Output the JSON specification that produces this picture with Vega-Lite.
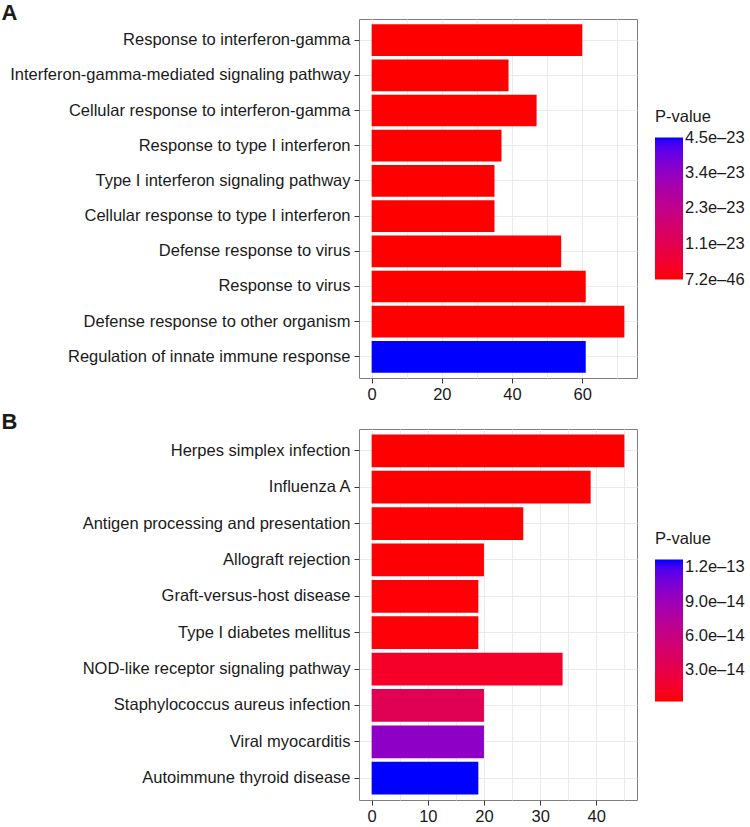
{
  "$schema": "https://vega.github.io/schema/vega-lite/v6.json",
  "padding": {"left": 0, "top": 0, "right": 0, "bottom": 0},
  "background": "white",
  "resolve": {"scale": {"color": "independent"}, "legend": {"color": "independent"}},
  "config": {
    "font": "Liberation Sans",
    "view": {"stroke": "#7f7f7f", "strokeWidth": 1},
    "axis": {
      "labelFont": "Liberation Sans",
      "labelFontSize": 16.5,
      "labelColor": "#1a1a1a",
      "tickColor": "#333333",
      "tickSize": 5,
      "domain": false,
      "gridColor": "#EBEBEB",
      "gridWidth": 1
    },
    "legend": {
      "orient": "none",
      "direction": "vertical",
      "padding": 0,
      "gradientLength": 142,
      "gradientThickness": 28,
      "gradientStrokeWidth": 0,
      "labelFont": "Liberation Sans",
      "labelFontSize": 16.5,
      "labelColor": "#1a1a1a",
      "labelOffset": 8,
      "labelBaseline": "middle",
      "labelOverlap": false,
      "titleFont": "Liberation Sans",
      "titleFontSize": 16.5,
      "titleFontWeight": "normal",
      "titleColor": "#1a1a1a",
      "titlePadding": 12
    },
    "concat": {"spacing": 6}
  },
  "vconcat": [
    {
      "width": 278,
      "height": 359,
      "data": {
        "values": [
          {"term": "Response to interferon-gamma", "count": 60, "pvalue": 3.1e-44},
          {"term": "Interferon-gamma-mediated signaling pathway", "count": 39, "pvalue": 2.4e-36},
          {"term": "Cellular response to interferon-gamma", "count": 47, "pvalue": 5.6e-39},
          {"term": "Response to type I interferon", "count": 37, "pvalue": 1.8e-40},
          {"term": "Type I interferon signaling pathway", "count": 35, "pvalue": 4.2e-39},
          {"term": "Cellular response to type I interferon", "count": 35, "pvalue": 4.2e-39},
          {"term": "Defense response to virus", "count": 54, "pvalue": 6.5e-42},
          {"term": "Response to virus", "count": 61, "pvalue": 1.3e-42},
          {"term": "Defense response to other organism", "count": 72, "pvalue": 7.2e-46},
          {"term": "Regulation of innate immune response", "count": 61, "pvalue": 4.5e-23}
        ]
      },
      "mark": {"type": "bar"},
      "encoding": {
        "y": {
          "field": "term", "type": "nominal", "sort": null,
          "scale": {"paddingInner": 0.1, "paddingOuter": 0.15},
          "axis": {
            "title": "A", "titleAngle": 0, "titleX": -358, "titleY": 0,
            "titleAlign": "left", "titleBaseline": "alphabetic",
            "titleFontSize": 22, "titleFontWeight": "bold", "titleColor": "#1a1a1a",
            "labelPadding": 4, "labelLimit": 400, "grid": true, "bandPosition": 0.5
          }
        },
        "x": {
          "field": "count", "type": "quantitative",
          "scale": {"domain": [-3.6, 75.6], "nice": false, "zero": false},
          "axis": {
            "title": null,
            "values": [0, 10, 20, 30, 40, 50, 60, 70],
            "labelExpr": "datum.value % 20 === 0 ? datum.label : ''",
            "tickOpacity": {"condition": {"test": "datum.value % 20 === 0", "value": 1}, "value": 0},
            "labelPadding": 3
          }
        },
        "color": {
          "field": "pvalue", "type": "quantitative",
          "scale": {"domain": [7.2e-46, 4.5e-23], "nice": false, "range": ["#FF0000", "#0000FF"], "interpolate": "lab"},
          "legend": {
            "title": "P-value",
            "values": [7.2e-46, 1.13e-23, 2.26e-23, 3.38e-23, 4.5e-23],
            "labelExpr": "replace(format(datum.value, '.1e'), '-', '–')",
            "legendX": 296, "legendY": 90,
            "encode": {"labels": {"update": {"baseline": {"value": "middle"}}}}
          }
        }
      }
    },
    {
      "width": 278,
      "height": 371,
      "data": {
        "values": [
          {"term": "Herpes simplex infection", "count": 45, "pvalue": 2e-15},
          {"term": "Influenza A", "count": 39, "pvalue": 2.4e-15},
          {"term": "Antigen processing and presentation", "count": 27, "pvalue": 2.6e-15},
          {"term": "Allograft rejection", "count": 20, "pvalue": 2.8e-15},
          {"term": "Graft-versus-host disease", "count": 19, "pvalue": 3.1e-15},
          {"term": "Type I diabetes mellitus", "count": 19, "pvalue": 3.4e-15},
          {"term": "NOD-like receptor signaling pathway", "count": 34, "pvalue": 1.4e-14},
          {"term": "Staphylococcus aureus infection", "count": 20, "pvalue": 3.6e-14},
          {"term": "Viral myocarditis", "count": 20, "pvalue": 9.7e-14},
          {"term": "Autoimmune thyroid disease", "count": 19, "pvalue": 1.27e-13}
        ]
      },
      "mark": {"type": "bar"},
      "encoding": {
        "y": {
          "field": "term", "type": "nominal", "sort": null,
          "scale": {"paddingInner": 0.1, "paddingOuter": 0.15},
          "axis": {
            "title": "B", "titleAngle": 0, "titleX": -358, "titleY": -1,
            "titleAlign": "left", "titleBaseline": "alphabetic",
            "titleFontSize": 22, "titleFontWeight": "bold", "titleColor": "#1a1a1a",
            "labelPadding": 4, "labelLimit": 400, "grid": true, "bandPosition": 0.5
          }
        },
        "x": {
          "field": "count", "type": "quantitative",
          "scale": {"domain": [-2.25, 47.25], "nice": false, "zero": false},
          "axis": {
            "title": null,
            "values": [0, 5, 10, 15, 20, 25, 30, 35, 40, 45],
            "labelExpr": "datum.value % 10 === 0 ? datum.label : ''",
            "tickOpacity": {"condition": {"test": "datum.value % 10 === 0", "value": 1}, "value": 0},
            "labelPadding": 3
          }
        },
        "color": {
          "field": "pvalue", "type": "quantitative",
          "scale": {"domain": [2e-15, 1.27e-13], "nice": false, "range": ["#FF0000", "#0000FF"], "interpolate": "lab"},
          "legend": {
            "title": "P-value",
            "values": [3e-14, 6e-14, 9e-14, 1.2e-13],
            "labelExpr": "replace(format(datum.value, '.1e'), '-', '–')",
            "legendX": 296, "legendY": 102,
            "encode": {"labels": {"update": {"baseline": {"value": "middle"}}}}
          }
        }
      }
    }
  ]
}
